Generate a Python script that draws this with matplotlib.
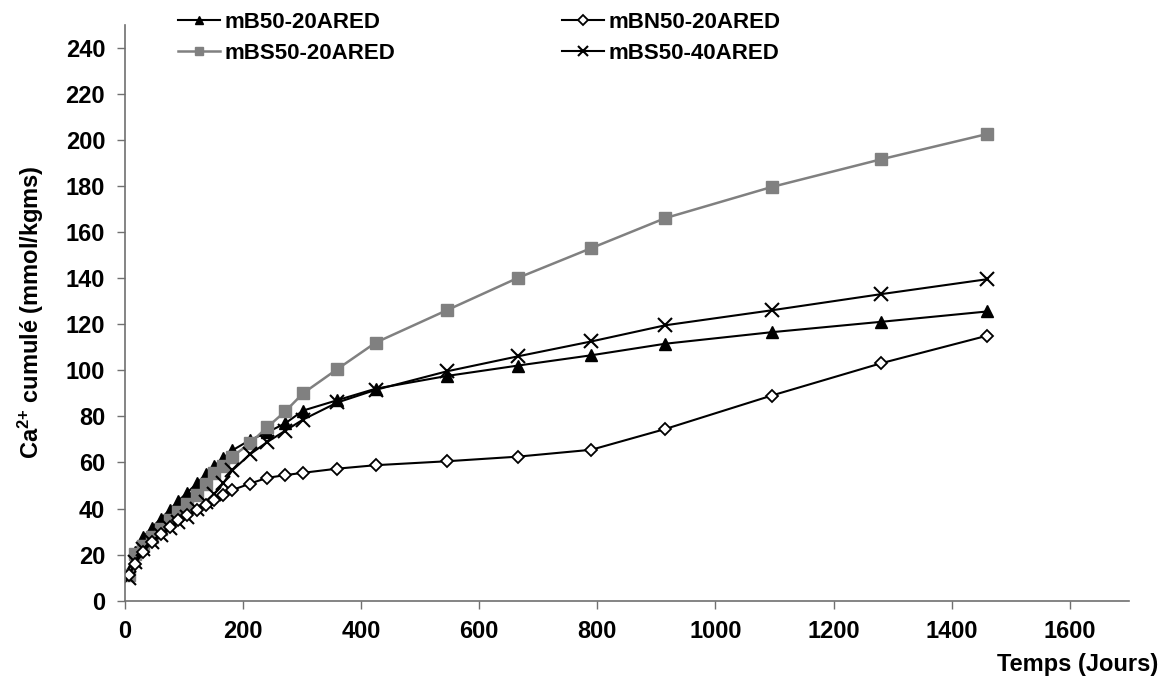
import matplotlib
matplotlib.use("Agg")
import matplotlib.pyplot as plt

plt.rcParams['font.family'] = ['Liberation Sans', 'DejaVu Sans']
plt.rcParams['font.weight'] = 'bold'
plt.rcParams['mathtext.fontset'] = 'custom'
plt.rcParams['mathtext.rm'] = 'Liberation Sans:bold'
plt.rcParams['mathtext.it'] = 'Liberation Sans:bold'
plt.rcParams['mathtext.bf'] = 'Liberation Sans:bold'

days = [7, 17, 31, 46, 61, 76, 91, 106, 122, 137, 152, 167, 182, 212, 241, 272, 302,
        360, 425, 545, 665, 790, 915, 1095, 1280, 1460]

mB50_20 = [13, 21.3, 27.5, 31.7, 35.6, 39.3, 43.4, 46.9, 50.9, 54.8, 58.6, 62, 65.2,
           69.7, 73, 77, 82.5, 87, 92, 97.5, 102, 106.5, 111.5, 116.5, 121, 125.5]
mBN50_20 = [11, 16, 21, 25.5, 29, 32, 35, 37.2, 39.3, 41.6, 43.7, 45.8, 48,
            50.8, 53.3, 54.5, 55.5, 57.3, 58.8, 60.5, 62.5, 65.5, 74.5, 89, 103, 115]
mBS50_20 = [11, 20.3, 23.7, 27.5, 31.2, 35, 38.6, 42, 45.8, 50.5, 55.2, 58.6, 62.5,
            68.3, 75.2, 82.2, 90, 100.5, 112, 126, 140, 153, 166, 179.5, 191.5, 202.5]
mBS50_40 = [9.7, 17, 22.5, 25.5, 28.5, 31.5, 34, 36.5, 40, 43, 46.5, 51, 56.5,
            63.5, 68.8, 73.8, 78.6, 86, 91.5, 99.5, 106, 112.5, 119.5, 126, 133, 139.5]

fig = plt.figure(figsize=(11.63, 6.81), dpi=100)
ax = fig.add_axes([0.1072, 0.1179, 0.8636, 0.8461])

l1, = ax.plot(days, mB50_20, color='black', lw=1.5, marker='^', ms=8,
              mfc='black', mec='black', label='mB50-20ARED')
l3, = ax.plot(days, mBS50_20, color='#808080', lw=1.8, marker='s', ms=8,
              mfc='#808080', mec='#808080', label='mBS50-20ARED')
l4, = ax.plot(days, mBS50_40, color='black', lw=1.5, marker='x', ms=10,
              mew=1.5, label='mBS50-40ARED')
l2, = ax.plot(days, mBN50_20, color='black', lw=1.5, marker='D', ms=6.5,
              mfc='white', mec='black', mew=1.3, label='mBN50-20ARED')

ax.set_xlim(0, 1700)
ax.set_ylim(0, 250)
ax.set_xticks(range(0, 1601, 200))
ax.set_yticks(range(0, 241, 20))
ax.set_xticklabels([str(v) for v in range(0, 1601, 200)], fontsize=17, fontweight='bold')
ax.set_yticklabels([str(v) for v in range(0, 241, 20)], fontsize=17, fontweight='bold')
ax.tick_params(length=6, width=1, color='#707070', direction='out', pad=8)
ax.spines['top'].set_visible(False)
ax.spines['right'].set_visible(False)
for s in ['left', 'bottom']:
    ax.spines[s].set_color('#707070')
    ax.spines[s].set_linewidth(1.2)

ax.set_ylabel('Ca$^{2{+}}$ cumulé (mmol/kgms)', fontsize=17, fontweight='bold')
ax.yaxis.set_label_coords(-0.078, 0.5)
ax.set_xlabel('Temps (Jours)', fontsize=17, fontweight='bold')
ax.xaxis.set_label_coords(1.029, -0.09)
ax.xaxis.label.set_horizontalalignment('right')

leg = fig.legend([l1, l3, l2, l4], [h.get_label() for h in [l1, l3, l2, l4]],
                 ncol=2, frameon=False, loc='upper left', bbox_to_anchor=(0.136, 1.012),
                 prop={'size': 16, 'weight': 'bold'}, handlelength=1.9,
                 handletextpad=0.2, columnspacing=7.5, labelspacing=0.45,
                 markerscale=0.75)

fig.savefig('out.png', dpi=100)
